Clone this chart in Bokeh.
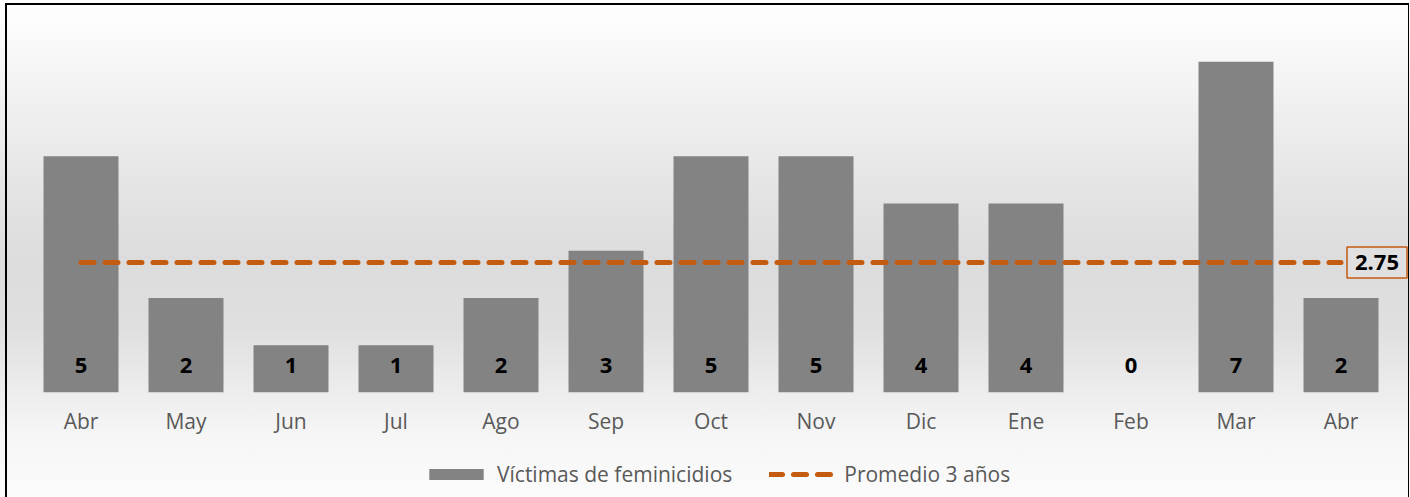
from bokeh.plotting import figure
from bokeh.layouts import column
from bokeh.models import ColumnDataSource, Range1d, FixedTicker, LabelSet, Label, Legend, LegendItem
from bokeh.core.properties import value
from bokeh.embed import file_html
from bokeh.resources import INLINE

months = ["Abr", "May", "Jun", "Jul", "Ago", "Sep", "Oct", "Nov", "Dic", "Ene", "Feb", "Mar", "Abr"]
victims = [5, 2, 1, 1, 2, 3, 5, 5, 4, 4, 0, 7, 2]
average_3y = 2.75
series_names = ["Víctimas de feminicidios", "Promedio 3 años"]

idx = list(range(len(months)))
src = ColumnDataSource(dict(x=idx, v=victims, lab=[str(v) for v in victims], zero=[0] * len(idx)))
avg_src = ColumnDataSource(dict(x=[idx[0], idx[-1]], y=[average_3y, average_3y]))

FONT = "Open Sans"
BAR = "#838383"
ORANGE = "#c55a11"

p = figure(width=1410, height=440, output_backend="svg", toolbar_location=None,
           x_range=Range1d(-0.5, -0.5 + 1382 / 105), y_range=Range1d(0, 8),
           min_border_left=28, min_border_right=0, min_border_top=14, min_border_bottom=48)
p.background_fill_color = None
p.border_fill_color = None
p.outline_line_color = None
p.grid.visible = False
p.yaxis.visible = False

p.vbar(x="x", top="v", width=0.714, source=src, fill_color=BAR, line_color=None)
p.line(x="x", y="y", source=avg_src, line_color=ORANGE, line_width=5,
       line_dash="13 11", line_cap="round")

labels = LabelSet(x="x", y="zero", text="lab", source=src, y_offset=27,
                  text_align="center", text_baseline="middle", text_font=value(FONT),
                  text_font_size="22px", text_font_style="bold", text_color="#000000")
p.add_layout(labels)

avg_label = Label(x=idx[-1], y=average_3y, text=f"{average_3y:.2f}", x_offset=6,
                  text_baseline="middle", text_align="left", text_font=FONT,
                  text_font_size="22px", text_font_style="bold", text_color="#000000",
                  border_line_color=ORANGE, border_line_width=1.5,
                  background_fill_color="#e0e0e0", padding=8)
p.add_layout(avg_label)

ax = p.xaxis[0]
ax.ticker = FixedTicker(ticks=idx)
ax.major_label_overrides = {i: m for i, m in enumerate(months)}
ax.axis_line_color = None
ax.major_tick_line_color = None
ax.minor_tick_line_color = None
ax.major_label_text_font = FONT
ax.major_label_text_font_size = "21px"
ax.major_label_text_color = "#595959"
ax.major_label_standoff = 8

# legend strip (its renderers hold points outside the visible range)
lg = figure(width=1410, height=57, output_backend="svg", toolbar_location=None,
            x_range=Range1d(0, 1), y_range=Range1d(0, 1),
            min_border_left=0, min_border_right=0, min_border_top=0, min_border_bottom=0)
lg.background_fill_color = None
lg.border_fill_color = None
lg.outline_line_color = None
lg.axis.visible = False
lg.grid.visible = False
dummy = ColumnDataSource(dict(x=[-10, -11], y=[-10, -10], top=[-10, -10]))
r_bar = lg.vbar(x="x", top="top", width=0.5, source=dummy, fill_color=BAR, line_color=None)
r_line = lg.line(x="x", y="y", source=dummy, line_color=ORANGE, line_width=5,
                 line_dash="13 11", line_cap="round")
legend = Legend(items=[LegendItem(label=series_names[0], renderers=[r_bar]),
                       LegendItem(label=series_names[1], renderers=[r_line])],
                orientation="horizontal", location=(394, 9),
                label_text_font=FONT, label_text_font_size="21px", label_text_color="#595959",
                glyph_width=68, glyph_height=14, spacing=37, label_standoff=7,
                background_fill_alpha=0, border_line_color=None, padding=0, margin=0)
lg.add_layout(legend)

layout = column(p, lg, spacing=0)
layout.styles = {"background": ", ".join([
    "linear-gradient(#000,#000) 5px 3px / 2px 494px no-repeat",
    "linear-gradient(#000,#000) 5px 3px / 1404px 2px no-repeat",
    "linear-gradient(#000,#000) 1408px 3px / 1px 494px no-repeat",
    "linear-gradient(to bottom, #ffffff 0%, #f7f7f7 12%, #eeeeee 24%, #e3e3e3 40%, #dcdcdc 53%, #dfdfdf 66%, #ececec 78%, #f6f6f6 88%, #fbfbfb 100%)",
])}

open("out.html", "w").write(file_html(layout, INLINE))
